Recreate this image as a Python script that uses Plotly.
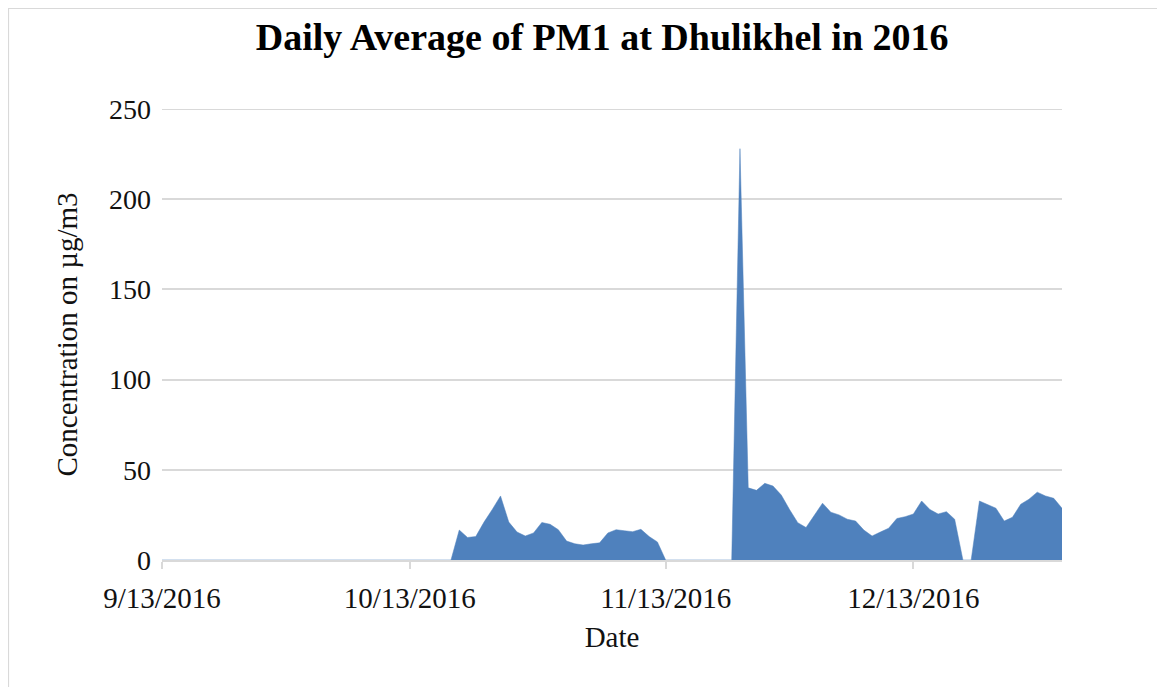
import pandas as pd
import plotly.graph_objects as go

# Daily dates (9/13/2016 .. 12/31/2016)
start_date = "2016-09-13"
end_date = "2016-12-31"
dates = pd.date_range(start_date, end_date, freq="D")

# Daily average PM1 (µg/m3); 0 where no data was recorded
pm1_values = [
    0, 0, 0, 0, 0, 0, 0, 0, 0, 0,            # 9/13 - 9/22
    0, 0, 0, 0, 0, 0, 0, 0, 0, 0,            # 9/23 - 10/2
    0, 0, 0, 0, 0, 0, 0, 0, 0, 0,            # 10/3 - 10/12
    0, 0, 0, 0, 0,                           # 10/13 - 10/17
    0, 16.6, 12.5, 13, 21, 28, 35.5, 21, 15.5, 13.3,   # 10/18 - 10/27
    15, 20.8, 19.8, 16.8, 10.5, 9, 8.3, 9, 9.5, 15,    # 10/28 - 11/6
    16.8, 16.2, 15.7, 17, 13, 10, 0,                   # 11/7 - 11/13
    0, 0, 0, 0, 0, 0, 0, 0,                            # 11/14 - 11/21
    228, 40, 38.6, 42.5, 41, 36, 28, 20.7, 18, 25,     # 11/22 - 12/1
    31.5, 26.5, 25, 22.6, 21.6, 16.6, 13.3, 15.5, 17.6, 23,  # 12/2 - 12/11
    24, 25.5, 32.7, 28, 25.5, 26.8, 22.6, 0, 0, 32.7,  # 12/12 - 12/21
    30.5, 28.7, 21.6, 23.7, 30.9, 33.7, 37.6, 35.5, 34.2, 28.7,  # 12/22 - 12/31
]

tick_dates = ["2016-09-13", "2016-10-13", "2016-11-13", "2016-12-13"]
tick_labels = ["9/13/2016", "10/13/2016", "11/13/2016", "12/13/2016"]
y_ticks = [0, 50, 100, 150, 200, 250]

title_text = "Daily Average of PM1 at Dhulikhel in 2016"
x_title = "Date"
y_title = "Concentration on µg/m3"

FONT = "Liberation Serif"
AREA = "#4F81BD"
GRID = "#D9D9D9"
TXT = "#111111"

fig = go.Figure()
fig.add_trace(go.Scatter(
    x=dates, y=pm1_values, mode="lines", fill="tozeroy",
    fillcolor=AREA, line=dict(color=AREA, width=0.5),
    showlegend=False, hoverinfo="x+y",
))

fig.update_layout(
    width=1165, height=687,
    paper_bgcolor="white", plot_bgcolor="white",
    margin=dict(l=154, r=111, t=101, b=135, autoexpand=False),
    title=dict(text="<b>" + title_text + "</b>", x=0.51, xanchor="center",
               y=0.958, yanchor="middle",
               font=dict(family=FONT, size=38, color="black")),
    font=dict(family=FONT, color=TXT),
    xaxis=dict(
        type="date", range=[start_date, end_date],
        tickvals=tick_dates, ticktext=tick_labels,
        tickfont=dict(size=29, color=TXT), ticklabelstandoff=4,
        showgrid=False, showline=True, linecolor=GRID, linewidth=2,
        ticks="outside", ticklen=7, tickwidth=2, tickcolor=GRID,
        title=dict(text=x_title, font=dict(size=29, color=TXT), standoff=14),
        zeroline=False, fixedrange=True,
    ),
    yaxis=dict(
        range=[0, 250], tickvals=y_ticks,
        tickfont=dict(size=28, color=TXT),
        showgrid=True, gridcolor=GRID, gridwidth=2,
        zeroline=False, showline=False, ticks="", ticklabelstandoff=10,
        title=dict(text=y_title, font=dict(size=29, color=TXT), standoff=22),
        fixedrange=True,
    ),
    shapes=[
        dict(type="rect", xref="paper", yref="paper",
             x0=-0.171, x1=1.2, y0=-0.4, y1=1.224,
             line=dict(color="#D9D9D9", width=2), layer="below"),
        dict(type="line", xref="paper", yref="y", x0=0, x1=1,
             y0=y_ticks[-1], y1=y_ticks[-1],
             line=dict(color=GRID, width=2), layer="below"),
    ],
)

fig.write_html("out.html")
